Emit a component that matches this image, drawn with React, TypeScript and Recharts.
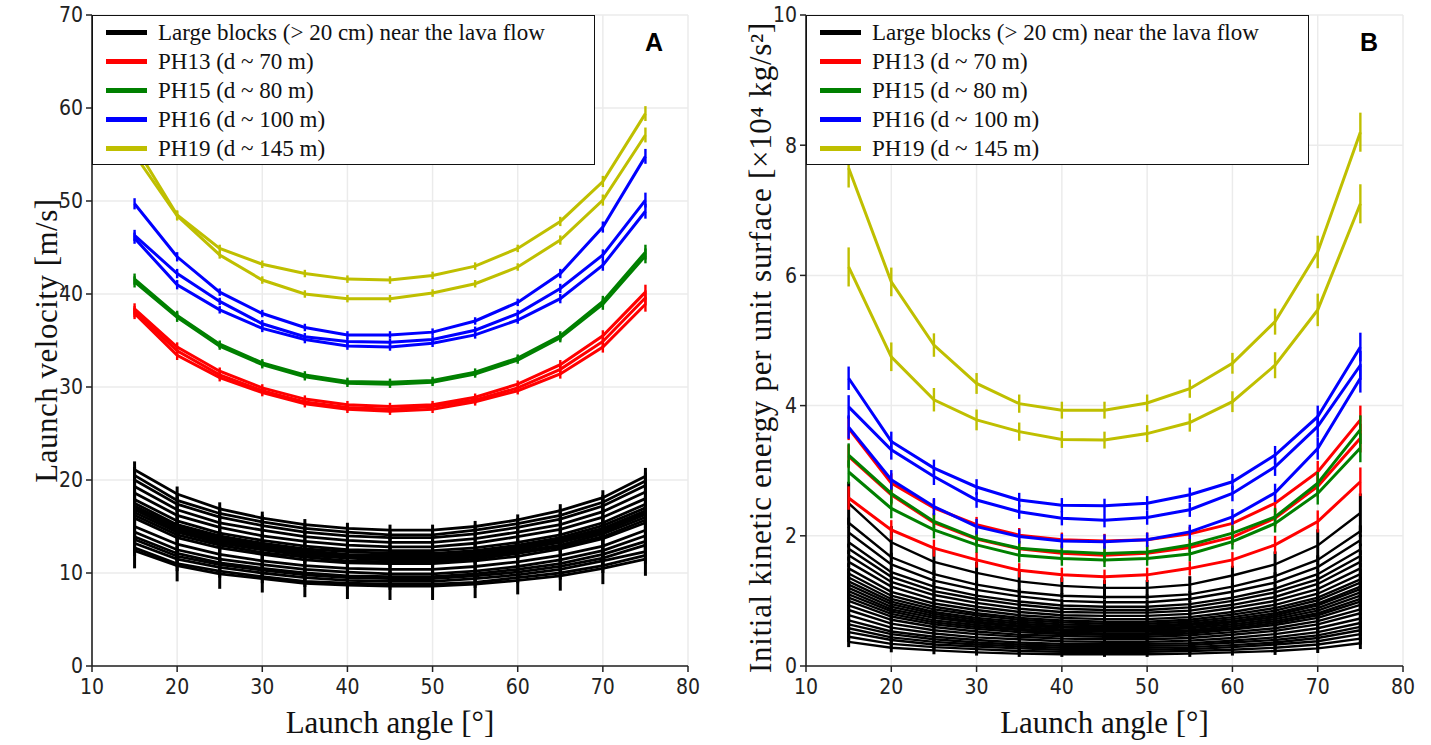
import { CartesianGrid, ErrorBar, Legend, Line, LineChart, XAxis, YAxis } from 'recharts';

// ---------------------------------------------------------------------------
// Data: launch angle (deg) vs launch velocity (panel A)
// and initial kinetic energy per unit surface (panel B, x10^4 kg/s^2).
// ---------------------------------------------------------------------------
const angles = [15, 20, 25, 30, 35, 40, 45, 50, 55, 60, 65, 70, 75];
const xTicks = [10, 20, 30, 40, 50, 60, 70, 80];
const velocityTicks = [0, 10, 20, 30, 40, 50, 60, 70];
const energyTicks = [0, 2, 4, 6, 8, 10];

const legendLabels = [
  'Large blocks (> 20 cm) near the lava flow',
  'PH13 (d ~ 70 m)',
  'PH15 (d ~ 80 m)',
  'PH16 (d ~ 100 m)',
  'PH19 (d ~ 145 m)',
];

// --- panel A: launch velocity [m/s] ----------------------------------------
const blackVelocity = [
  [21.1, 18.5, 16.9, 15.9, 15.2, 14.8, 14.6, 14.6, 15.0, 15.7, 16.7, 18.1, 20.4],
  [20.5, 17.8, 16.4, 15.5, 14.8, 14.4, 14.1, 14.1, 14.6, 15.3, 16.2, 17.6, 19.9],
  [20.0, 17.4, 16.0, 15.1, 14.4, 14.0, 13.8, 13.8, 14.2, 14.9, 15.8, 17.2, 19.4],
  [19.3, 16.8, 15.4, 14.6, 13.9, 13.5, 13.3, 13.3, 13.7, 14.4, 15.2, 16.6, 18.7],
  [18.6, 16.2, 14.9, 14.0, 13.4, 13.0, 12.8, 12.8, 13.2, 13.9, 14.7, 16.0, 18.0],
  [17.9, 15.6, 14.3, 13.5, 12.9, 12.5, 12.4, 12.4, 12.7, 13.3, 14.1, 15.4, 17.4],
  [17.5, 15.2, 14.0, 13.2, 12.6, 12.3, 12.1, 12.1, 12.4, 13.0, 13.8, 15.1, 17.0],
  [17.2, 15.0, 13.8, 13.0, 12.4, 12.0, 11.9, 11.9, 12.2, 12.8, 13.6, 14.8, 16.7],
  [17.0, 14.8, 13.6, 12.8, 12.2, 11.9, 11.7, 11.7, 12.1, 12.7, 13.4, 14.6, 16.5],
  [16.8, 14.6, 13.4, 12.7, 12.1, 11.8, 11.6, 11.6, 11.9, 12.5, 13.3, 14.4, 16.3],
  [16.5, 14.4, 13.2, 12.5, 11.9, 11.6, 11.4, 11.4, 11.7, 12.3, 13.0, 14.2, 16.0],
  [16.2, 14.1, 13.0, 12.2, 11.7, 11.3, 11.2, 11.2, 11.5, 12.1, 12.8, 13.9, 15.7],
  [15.9, 13.8, 12.7, 12.0, 11.4, 11.1, 11.0, 11.0, 11.3, 11.8, 12.6, 13.7, 15.4],
  [15.0, 13.1, 12.0, 11.3, 10.8, 10.5, 10.4, 10.4, 10.7, 11.2, 11.9, 12.9, 14.6],
  [14.4, 12.5, 11.5, 10.9, 10.4, 10.1, 9.9, 9.9, 10.2, 10.7, 11.4, 12.4, 14.0],
  [13.9, 12.1, 11.1, 10.5, 10.0, 9.7, 9.6, 9.6, 9.9, 10.4, 11.0, 12.0, 13.4],
  [13.6, 11.8, 10.9, 10.3, 9.8, 9.5, 9.4, 9.4, 9.7, 10.1, 10.7, 11.6, 13.0],
  [13.2, 11.5, 10.6, 10.0, 9.5, 9.2, 9.1, 9.1, 9.4, 9.8, 10.4, 11.3, 12.3],
  [12.7, 11.0, 10.2, 9.6, 9.1, 8.9, 8.8, 8.8, 9.0, 9.5, 10.0, 10.8, 11.9],
  [12.4, 10.8, 9.9, 9.4, 8.9, 8.7, 8.6, 8.6, 8.8, 9.2, 9.7, 10.5, 11.5],
];
const ph13Velocity = [
  [38.4, 34.3, 31.7, 29.9, 28.7, 28.1, 27.9, 28.1, 28.9, 30.3, 32.4, 35.5, 40.2],
  [38.1, 33.9, 31.3, 29.6, 28.4, 27.8, 27.6, 27.9, 28.6, 29.9, 31.9, 34.9, 39.6],
  [37.9, 33.4, 31.0, 29.4, 28.2, 27.6, 27.4, 27.6, 28.4, 29.6, 31.4, 34.3, 38.9],
];
const ph15Velocity = [
  [41.6, 37.7, 34.6, 32.6, 31.3, 30.6, 30.5, 30.7, 31.6, 33.1, 35.5, 39.2, 44.5],
  [41.3, 37.5, 34.4, 32.4, 31.1, 30.4, 30.3, 30.5, 31.4, 32.9, 35.3, 38.9, 44.1],
];
const ph16Velocity = [
  [49.7, 44.0, 40.2, 37.9, 36.4, 35.6, 35.6, 35.9, 37.1, 39.1, 42.2, 47.2, 54.8],
  [46.3, 42.2, 39.2, 36.8, 35.4, 34.9, 34.8, 35.1, 36.1, 37.9, 40.6, 44.2, 50.1],
  [46.0, 41.0, 38.3, 36.3, 35.1, 34.4, 34.3, 34.7, 35.6, 37.2, 39.5, 43.1, 48.9],
];
const ph19Velocity = [
  [56.0, 48.5, 44.9, 43.2, 42.2, 41.6, 41.5, 42.0, 43.0, 44.9, 47.8, 52.1, 59.4],
  [55.0, 48.4, 44.2, 41.5, 40.0, 39.5, 39.5, 40.1, 41.1, 42.9, 45.8, 50.1, 57.1],
];
const blackVelocityErr = [0.9, 0.8, 0.7, 0.7, 0.6, 0.6, 0.6, 0.6, 0.6, 0.6, 0.7, 0.8, 0.9];
const blackVelocityErrLow = [1.9, 1.7, 1.6, 1.5, 1.5, 1.5, 1.5, 1.5, 1.5, 1.5, 1.6, 1.7, 1.8];
const groupVelocityErr = [0.6, 0.5, 0.4, 0.4, 0.4, 0.4, 0.4, 0.4, 0.4, 0.4, 0.5, 0.6, 0.8];

// --- panel B: initial kinetic energy per unit surface ----------------------
const blackEnergy = [
  [2.5, 1.9, 1.6, 1.43, 1.3, 1.23, 1.2, 1.2, 1.25, 1.39, 1.56, 1.85, 2.35],
  [2.2, 1.67, 1.41, 1.25, 1.14, 1.08, 1.06, 1.06, 1.1, 1.22, 1.38, 1.63, 2.07],
  [2.05, 1.56, 1.31, 1.17, 1.07, 1.0, 0.98, 0.98, 1.03, 1.14, 1.28, 1.52, 1.93],
  [1.9, 1.44, 1.22, 1.08, 0.99, 0.93, 0.91, 0.91, 0.95, 1.05, 1.19, 1.41, 1.79],
  [1.8, 1.37, 1.15, 1.03, 0.94, 0.88, 0.86, 0.86, 0.9, 1.0, 1.13, 1.33, 1.69],
  [1.7, 1.29, 1.09, 0.97, 0.88, 0.83, 0.82, 0.82, 0.85, 0.94, 1.06, 1.26, 1.6],
  [1.6, 1.22, 1.02, 0.91, 0.83, 0.78, 0.77, 0.77, 0.8, 0.89, 1.0, 1.18, 1.5],
  [1.5, 1.14, 0.96, 0.86, 0.78, 0.74, 0.72, 0.72, 0.75, 0.83, 0.94, 1.11, 1.41],
  [1.42, 1.08, 0.91, 0.81, 0.74, 0.7, 0.68, 0.68, 0.71, 0.79, 0.89, 1.05, 1.33],
  [1.36, 1.03, 0.87, 0.78, 0.71, 0.67, 0.65, 0.65, 0.68, 0.75, 0.85, 1.01, 1.28],
  [1.3, 0.99, 0.83, 0.74, 0.68, 0.64, 0.62, 0.62, 0.65, 0.72, 0.81, 0.96, 1.22],
  [1.25, 0.95, 0.8, 0.71, 0.65, 0.61, 0.6, 0.6, 0.63, 0.69, 0.78, 0.93, 1.18],
  [1.2, 0.91, 0.77, 0.68, 0.62, 0.59, 0.58, 0.58, 0.6, 0.67, 0.75, 0.89, 1.13],
  [1.15, 0.87, 0.74, 0.66, 0.6, 0.56, 0.55, 0.55, 0.58, 0.64, 0.72, 0.85, 1.08],
  [1.1, 0.84, 0.7, 0.63, 0.57, 0.54, 0.53, 0.53, 0.55, 0.61, 0.69, 0.81, 1.03],
  [1.05, 0.8, 0.67, 0.6, 0.55, 0.51, 0.5, 0.5, 0.53, 0.58, 0.66, 0.78, 0.99],
  [1.0, 0.76, 0.64, 0.57, 0.52, 0.49, 0.48, 0.48, 0.5, 0.56, 0.63, 0.74, 0.94],
  [0.93, 0.71, 0.6, 0.53, 0.48, 0.46, 0.45, 0.45, 0.47, 0.52, 0.58, 0.69, 0.87],
  [0.86, 0.65, 0.55, 0.49, 0.45, 0.42, 0.41, 0.41, 0.43, 0.48, 0.54, 0.64, 0.81],
  [0.78, 0.59, 0.5, 0.44, 0.41, 0.38, 0.37, 0.37, 0.39, 0.43, 0.49, 0.58, 0.73],
  [0.7, 0.53, 0.45, 0.4, 0.36, 0.34, 0.34, 0.34, 0.35, 0.39, 0.44, 0.52, 0.66],
  [0.64, 0.49, 0.41, 0.36, 0.33, 0.31, 0.31, 0.31, 0.32, 0.36, 0.4, 0.47, 0.6],
  [0.58, 0.44, 0.37, 0.33, 0.3, 0.28, 0.28, 0.28, 0.29, 0.32, 0.36, 0.43, 0.55],
  [0.52, 0.4, 0.33, 0.3, 0.27, 0.25, 0.25, 0.25, 0.26, 0.29, 0.33, 0.38, 0.49],
  [0.45, 0.34, 0.29, 0.26, 0.23, 0.22, 0.22, 0.22, 0.23, 0.25, 0.28, 0.33, 0.42],
  [0.37, 0.28, 0.24, 0.21, 0.19, 0.18, 0.18, 0.18, 0.19, 0.21, 0.23, 0.27, 0.35],
];
const ph13Energy = [
  [3.65, 2.81, 2.43, 2.17, 2.01, 1.94, 1.92, 1.94, 2.03, 2.19, 2.5, 2.98, 3.78],
  [3.22, 2.63, 2.2, 1.95, 1.8, 1.73, 1.7, 1.73, 1.82, 1.98, 2.27, 2.76, 3.5],
  [2.58, 2.09, 1.81, 1.63, 1.47, 1.4, 1.37, 1.4, 1.5, 1.63, 1.86, 2.22, 2.83],
];
const ph15Energy = [
  [3.24, 2.65, 2.22, 1.96, 1.81, 1.76, 1.73, 1.75, 1.86, 2.04, 2.29, 2.81, 3.63],
  [2.98, 2.42, 2.09, 1.86, 1.7, 1.65, 1.63, 1.65, 1.72, 1.91, 2.19, 2.65, 3.35],
];
const ph16Energy = [
  [4.42, 3.45, 3.04, 2.75, 2.55, 2.47, 2.46, 2.5, 2.63, 2.83, 3.24, 3.83, 4.9],
  [3.98, 3.32, 2.91, 2.55, 2.37, 2.27, 2.24, 2.28, 2.4, 2.65, 3.06, 3.68, 4.62],
  [3.67, 2.86, 2.45, 2.14, 1.99, 1.92, 1.91, 1.94, 2.06, 2.29, 2.66, 3.34, 4.42],
];
const ph19Energy = [
  [7.65, 5.9, 4.93, 4.34, 4.03, 3.93, 3.93, 4.04, 4.26, 4.65, 5.29, 6.36, 8.2],
  [6.13, 4.75, 4.09, 3.78, 3.6, 3.48, 3.47, 3.57, 3.74, 4.06, 4.62, 5.47, 7.1],
];
const blackEnergyErrTop = [0.33, 0.25, 0.2, 0.17, 0.15, 0.13, 0.12, 0.12, 0.13, 0.15, 0.2, 0.25, 0.3];
const blackEnergyErr = [0.08, 0.07, 0.06, 0.05, 0.05, 0.04, 0.04, 0.04, 0.05, 0.05, 0.06, 0.07, 0.09];
const groupEnergyErr = [0.18, 0.15, 0.13, 0.12, 0.11, 0.11, 0.11, 0.11, 0.11, 0.12, 0.14, 0.17, 0.22];
const ph19EnergyErr = [0.3, 0.22, 0.18, 0.16, 0.14, 0.13, 0.13, 0.13, 0.14, 0.16, 0.2, 0.25, 0.3];

// ---------------------------------------------------------------------------
const BLACK = '#000000';
const RED = '#ff0000';
const GREEN = '#008000';
const BLUE = '#0000ff';
const YELLOW = '#bfbf00';
const LEGEND_COLORS = [BLACK, RED, GREEN, BLUE, YELLOW];

const SERIF = "'Liberation Serif', 'DejaVu Serif', serif";
const TICK_FONT = "'Liberation Sans Narrow', 'DejaVu Sans Condensed', 'Liberation Sans', sans-serif";
const GRID_COLOR = '#ebebeb';
const AXIS_COLOR = '#222';

interface Series {
  key: string;
  color: string;
  values: number[];
  err: number[];
  width: number;
  errWidth: number;
}

function group(prefix: string, color: string, lines: number[][], err: number[]): Series[] {
  return lines.map((values, i) => ({
    key: `${prefix}${i}`,
    color,
    values,
    err,
    width: 3,
    errWidth: 2.4,
  }));
}

const velocitySeries: Series[] = [
  ...blackVelocity.map((values, i) => ({
    key: `blk${i}`,
    color: BLACK,
    values,
    err: i === blackVelocity.length - 1 ? blackVelocityErrLow : blackVelocityErr,
    width: 2.8,
    errWidth: 3,
  })),
  ...group('ph13_', RED, ph13Velocity, groupVelocityErr),
  ...group('ph15_', GREEN, ph15Velocity, groupVelocityErr),
  ...group('ph16_', BLUE, ph16Velocity, groupVelocityErr),
  ...group('ph19_', YELLOW, ph19Velocity, groupVelocityErr),
];

const energySeries: Series[] = [
  ...blackEnergy.map((values, i) => ({
    key: `blk${i}`,
    color: BLACK,
    values,
    err: i === 0 ? blackEnergyErrTop : blackEnergyErr,
    width: 2.4,
    errWidth: 3,
  })),
  ...group('ph13_', RED, ph13Energy, groupEnergyErr),
  ...group('ph15_', GREEN, ph15Energy, groupEnergyErr),
  ...group('ph16_', BLUE, ph16Energy, groupEnergyErr),
  ...group('ph19_', YELLOW, ph19Energy, ph19EnergyErr),
];

function buildRows(series: Series[]) {
  return angles.map((angle, i) => {
    const row: Record<string, number> = { angle };
    for (const s of series) {
      row[s.key] = s.values[i];
      row[`${s.key}_err`] = s.err[i];
    }
    return row;
  });
}

function LegendBox() {
  return (
    <div
      style={{
        width: 503,
        height: 150,
        boxSizing: 'border-box',
        border: '1.5px solid #111',
        background: '#fff',
        paddingTop: 2,
        paddingLeft: 13,
        fontFamily: SERIF,
        fontSize: 23,
        color: '#111',
      }}
    >
      {legendLabels.map((label, i) => (
        <div key={label} style={{ display: 'flex', alignItems: 'center', height: 29 }}>
          <span style={{ width: 41, height: 5, background: LEGEND_COLORS[i], marginRight: 11 }} />
          <span style={{ whiteSpace: 'nowrap' }}>{label}</span>
        </div>
      ))}
    </div>
  );
}

function YTitle({ viewBox, text, x, size, spacing, shift }: any) {
  const cy = viewBox.y + viewBox.height / 2 + shift;
  return (
    <text
      x={x}
      y={cy}
      transform={`rotate(-90, ${x}, ${cy})`}
      textAnchor="middle"
      dominantBaseline="central"
      fontFamily={SERIF}
      fontSize={size}
      letterSpacing={spacing}
      fill="#111"
    >
      {text}
    </text>
  );
}

function XTitle({ viewBox }: any) {
  const cx = viewBox.x + viewBox.width / 2;
  return (
    <text x={cx} y={722} textAnchor="middle" dominantBaseline="central" fontFamily={SERIF} fontSize={31} fill="#111">
      Launch angle [°]
    </text>
  );
}

interface PanelProps {
  width: number;
  axisWidth: number;
  rightMargin: number;
  series: Series[];
  yMax: number;
  yTicks: number[];
  yTitle: string;
  yTitleX: number;
  yTitleSize: number;
  yTitleSpacing: number;
  yTitleShift: number;
  letter: string;
}

function Panel(props: PanelProps) {
  const { width, axisWidth, rightMargin, series, yMax, yTicks, yTitle, yTitleX, yTitleSize, yTitleSpacing, yTitleShift, letter } =
    props;
  const rows = buildRows(series);
  const tick = { fill: '#222', fontSize: 21, fontFamily: TICK_FONT };
  return (
    <div style={{ position: 'relative', width, height: 745 }}>
      <LineChart width={width} height={745} data={rows} margin={{ top: 15, right: rightMargin, bottom: 0, left: 0 }}>
        <CartesianGrid stroke={GRID_COLOR} strokeWidth={1.5} />
        <XAxis
          dataKey="angle"
          type="number"
          domain={[10, 80]}
          ticks={xTicks}
          height={79}
          tick={tick}
          tickMargin={7}
          tickSize={6}
          axisLine={{ stroke: AXIS_COLOR, strokeWidth: 1.6 }}
          tickLine={{ stroke: AXIS_COLOR, strokeWidth: 1.5 }}
          label={<XTitle />}
        />
        <XAxis
          xAxisId="top"
          orientation="top"
          dataKey="angle"
          type="number"
          domain={[10, 80]}
          height={0}
          tick={false}
          tickLine={false}
          axisLine={{ stroke: '#444', strokeWidth: 1.6 }}
        />
        <YAxis
          type="number"
          domain={[0, yMax]}
          ticks={yTicks}
          width={axisWidth}
          tick={tick}
          tickSize={6}
          tickMargin={3}
          axisLine={{ stroke: AXIS_COLOR, strokeWidth: 1.6 }}
          tickLine={{ stroke: AXIS_COLOR, strokeWidth: 1.5 }}
          label={<YTitle text={yTitle} x={yTitleX} size={yTitleSize} spacing={yTitleSpacing} shift={yTitleShift} />}
        />
        <YAxis
          yAxisId="right"
          orientation="right"
          type="number"
          domain={[0, yMax]}
          width={0}
          tick={false}
          tickLine={false}
          axisLine={{ stroke: '#444', strokeWidth: 1.6 }}
        />
        {series.map((s) => (
          <Line
            key={s.key}
            type="linear"
            dataKey={s.key}
            stroke={s.color}
            strokeWidth={s.width}
            dot={false}
            activeDot={false}
            isAnimationActive={false}
          >
            <ErrorBar
              dataKey={`${s.key}_err`}
              direction="y"
              width={0}
              stroke={s.color}
              strokeWidth={s.errWidth}
              isAnimationActive={false}
            />
          </Line>
        ))}
        <Legend
          layout="vertical"
          align="center"
          verticalAlign="middle"
          content={() => <LegendBox />}
          wrapperStyle={{ top: 15, left: axisWidth, width: 503, height: 150 }}
        />
      </LineChart>
      <div
        style={{
          position: 'absolute',
          left: width - rightMargin - 54,
          top: 27,
          width: 40,
          textAlign: 'center',
          fontFamily: "'Liberation Sans', Arial, sans-serif",
          fontWeight: 700,
          fontSize: 25,
          lineHeight: '30px',
          color: '#000',
        }}
      >
        {letter}
      </div>
    </div>
  );
}

export default function App() {
  return (
    <div style={{ position: 'absolute', left: 0, top: 0, width: 1431, height: 745, background: '#fff', display: 'flex' }}>
      <Panel
        width={715}
        axisWidth={92}
        rightMargin={27}
        series={velocitySeries}
        yMax={70}
        yTicks={velocityTicks}
        yTitle="Launch velocity [m/s]"
        yTitleX={30}
        yTitleSize={31}
        yTitleSpacing={0.5}
        yTitleShift={0}
        letter="A"
      />
      <Panel
        width={716}
        axisWidth={91}
        rightMargin={28}
        series={energySeries}
        yMax={10}
        yTicks={energyTicks}
        yTitle="Initial kinetic energy per unit surface [×10⁴ kg/s²]"
        yTitleX={27}
        yTitleSize={31}
        yTitleSpacing={0.7}
        yTitleShift={7}
        letter="B"
      />
    </div>
  );
}
